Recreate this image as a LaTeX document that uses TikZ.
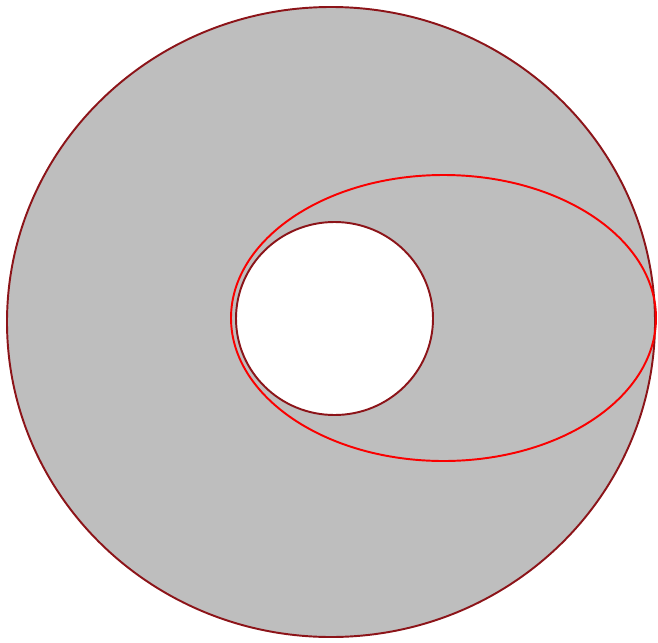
\documentclass[tikz,border=0pt]{standalone}
\definecolor{ringgray}{RGB}{190, 190, 190}
\definecolor{rimred}{RGB}{140, 20, 25}
\definecolor{loopred}{RGB}{250, 0, 0}
\usepackage{tikz}

\begin{document}
\begin{tikzpicture}[x=0.02cm, y=-0.02cm]
        \useasboundingbox (0,0) rectangle (658,642);

        % Annulus
        \fill[ringgray, even odd rule] (331,322) ellipse [x radius=324, y radius=315]
              (334.5,318.5) ellipse [x radius=98.5, y radius=96.5];
        \draw[rimred, line width=1.1pt] (331,322) ellipse [x radius=324, y radius=315];
        \draw[rimred, line width=1.1pt] (334.5,318.5) ellipse [x radius=98.5, y radius=96.5];

        % Loop
        \draw[loopred, line width=1.1pt] (443.5,318) ellipse [x radius=212.5, y radius=143];
      \end{tikzpicture}
\end{document}
